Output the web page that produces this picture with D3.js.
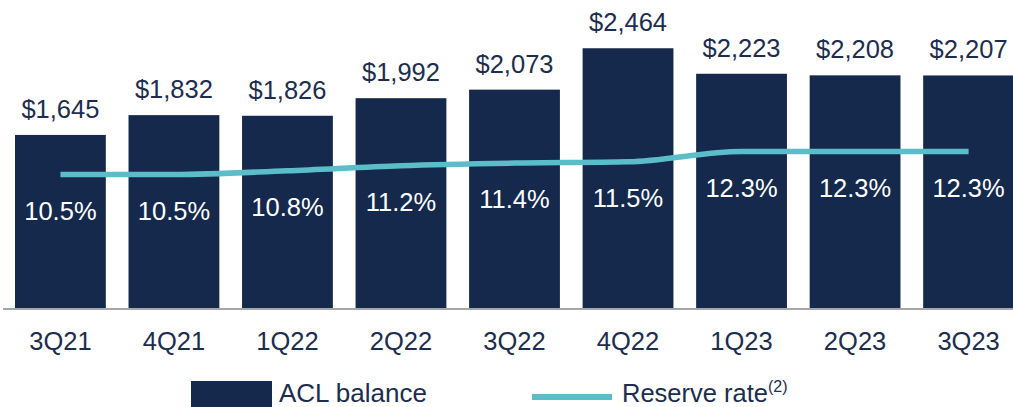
<!DOCTYPE html>
<html>
<head>
<meta charset="utf-8">
<script src="https://cdn.jsdelivr.net/npm/d3@7"></script>
<style>
  body { margin: 0; background: #fff; }
  text { font-family: "Liberation Sans", Arial, sans-serif; }
</style>
</head>
<body>
<div id="chart"></div>
<script>
// Data
const quarters = ["3Q21", "4Q21", "1Q22", "2Q22", "3Q22", "4Q22", "1Q23", "2Q23", "3Q23"];
const aclBalance = [1645, 1832, 1826, 1992, 2073, 2464, 2223, 2208, 2207];
const reserveRate = [10.5, 10.5, 10.8, 11.2, 11.4, 11.5, 12.3, 12.3, 12.3];

const width = 1013, height = 407;
const baseY = 309;
const barColor = "#14294b";
const lineColor = "#5bbdc9";
const textColor = "#1c2d4d";

const svg = d3.select("#chart")
  .append("svg")
  .attr("width", width)
  .attr("height", height);

const x = d3.scaleBand()
  .domain(quarters)
  .range([15, 1014])
  .paddingInner(0.2)
  .paddingOuter(0);

const y = d3.scaleLinear()
  .domain([0, 2920])
  .range([baseY, 0]);

const yRate = d3.scaleLinear()
  .domain([0, 24.14])
  .range([baseY, 0]);

const rows = quarters.map((q, i) => ({ q, acl: aclBalance[i], rate: reserveRate[i] }));

// bars
svg.selectAll(".bar")
  .data(rows)
  .join("rect")
  .attr("class", "bar")
  .attr("x", d => x(d.q))
  .attr("y", d => y(d.acl))
  .attr("width", x.bandwidth())
  .attr("height", d => baseY - y(d.acl))
  .attr("fill", barColor);

// baseline
svg.append("line")
  .attr("x1", 3).attr("x2", width)
  .attr("y1", baseY).attr("y2", baseY)
  .attr("stroke", "#a6a6a6")
  .attr("stroke-width", 2);

// value labels above bars
svg.selectAll(".val")
  .data(rows)
  .join("text")
  .attr("class", "val")
  .attr("x", d => x(d.q) + x.bandwidth() / 2)
  .attr("y", d => y(d.acl) - 17)
  .attr("text-anchor", "middle")
  .attr("font-size", 25.5)
  .attr("fill", textColor)
  .text(d => "$" + d3.format(",")(d.acl));

// reserve rate line
const line = d3.line()
  .x(d => x(d.q) + x.bandwidth() / 2)
  .y(d => yRate(d.rate))
  .curve(d3.curveMonotoneX);

svg.append("path")
  .datum(rows)
  .attr("d", line)
  .attr("fill", "none")
  .attr("stroke", lineColor)
  .attr("stroke-width", 5.5);

// rate labels
svg.selectAll(".rate")
  .data(rows)
  .join("text")
  .attr("class", "rate")
  .attr("x", d => x(d.q) + x.bandwidth() / 2)
  .attr("y", d => yRate(d.rate) + 45)
  .attr("text-anchor", "middle")
  .attr("font-size", 25.5)
  .attr("fill", "#ffffff")
  .text(d => d.rate.toFixed(1) + "%");

// category labels
svg.selectAll(".cat")
  .data(quarters)
  .join("text")
  .attr("class", "cat")
  .attr("x", d => x(d) + x.bandwidth() / 2)
  .attr("y", 350)
  .attr("text-anchor", "middle")
  .attr("font-size", 25.5)
  .attr("fill", textColor)
  .text(d => d);

// legend
const legend = svg.append("g");
legend.append("rect")
  .attr("x", 191).attr("y", 381)
  .attr("width", 81).attr("height", 26)
  .attr("fill", barColor);
legend.append("text")
  .attr("x", 279).attr("y", 402)
  .attr("font-size", 26)
  .attr("fill", textColor)
  .text("ACL balance");
legend.append("line")
  .attr("x1", 532).attr("x2", 612)
  .attr("y1", 397).attr("y2", 397)
  .attr("stroke", lineColor)
  .attr("stroke-width", 6);
const rt = legend.append("text")
  .attr("x", 622).attr("y", 402)
  .attr("font-size", 25.5)
  .attr("fill", textColor)
  .text("Reserve rate");
rt.append("tspan")
  .attr("font-size", 16)
  .attr("dy", -10)
  .text("(2)");
</script>
</body>
</html>
